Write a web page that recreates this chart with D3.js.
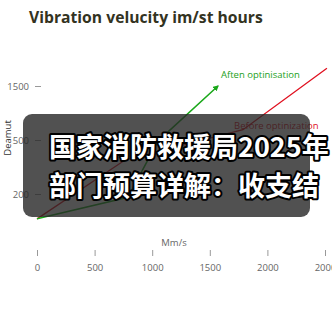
<!DOCTYPE html>
<html>
<head>
<meta charset="utf-8">
<script src="https://d3js.org/d3.v7.min.js"></script>
<style>
  body { margin: 0; background: #fff; }
  svg { display: block; }
  .axis text { fill: #666; font-family: "Open Sans", sans-serif; font-size: 9.5px; }
  .axis line { stroke: #999; }
  .axis .domain { stroke: none; }
</style>
</head>
<body>
<script>
// values
var title = "Vibration velucity im/st hours";
var xTicks = [0, 500, 1000, 1500, 2000, 2500];
var xTickLabels = ["0", "500", "1000", "1500", "2000", "2000"];
var yTicks = [1, 2, 3];
var yTickLabels = ["200", "500", "1500"];

var beforeX = [0, 764, 1788, 2517];
var beforeY = [0.54, 1.63, 2.19, 3.33];
var afterX = [0, 790, 1050, 1571];
var afterY = [0.54, 0.94, 1.98, 3.0];

var overlayLines = ["国家消防救援局2025年", "部门预算详解：收支结"];

var width = 332, height = 332;

var svg = d3.select('body').append('svg')
  .attr('width', width)
  .attr('height', height);

var defs = svg.append('defs');
defs.append('marker')
  .attr('id', 'arrow')
  .attr('viewBox', '0 0 10 10')
  .attr('refX', 8).attr('refY', 5)
  .attr('markerWidth', 6).attr('markerHeight', 6)
  .attr('markerUnits', 'userSpaceOnUse')
  .attr('orient', 'auto')
  .append('path')
  .attr('d', 'M0,0 L10,5 L0,10 z')
  .attr('fill', '#1aa81a');

const xScale = d3.scaleLinear()
  .domain([0, 2500])
  .range([37, 325]);

const yScale = d3.scaleLinear()
  .domain([0, 3])
  .range([248, 86]);

// title
svg.append('text')
  .attr('x', 29).attr('y', 23)
  .attr('fill', '#33331f')
  .style('font-family', '"Open Sans", sans-serif')
  .style('font-weight', 'bold')
  .style('font-size', '15.7px')
  .text(title);

// axes
const yAxis = d3.axisLeft(yScale)
  .tickValues(yTicks)
  .tickFormat((d, i) => yTickLabels[i])
  .tickSize(6)
  .tickPadding(6);
svg.append('g')
  .attr('class', 'axis')
  .attr('transform', 'translate(41,0)')
  .call(yAxis);

const xAxis = d3.axisBottom(xScale)
  .tickValues(xTicks)
  .tickFormat((d, i) => xTickLabels[i])
  .tickSize(6)
  .tickPadding(8);
svg.append('g')
  .attr('class', 'axis')
  .attr('transform', 'translate(0,250)')
  .call(xAxis);

svg.append('text')
  .attr('x', 174).attr('y', 246)
  .attr('text-anchor', 'middle')
  .attr('fill', '#666')
  .style('font-family', '"Open Sans", sans-serif')
  .style('font-size', '9.5px')
  .text('Mm/s');

svg.append('text')
  .attr('transform', 'translate(11,138) rotate(-90)')
  .attr('text-anchor', 'middle')
  .attr('fill', '#333')
  .style('font-family', '"Open Sans", sans-serif')
  .style('font-size', '9.5px')
  .text('Deamut');

// lines
const line = d3.line()
  .x(d => xScale(d[0]))
  .y(d => yScale(d[1]));

svg.append('path')
  .datum(d3.zip(beforeX, beforeY))
  .attr('d', line)
  .attr('fill', 'none')
  .attr('stroke', '#e0101f')
  .attr('stroke-width', 1.3);

svg.append('path')
  .datum(d3.zip(afterX, afterY))
  .attr('d', line)
  .attr('fill', 'none')
  .attr('stroke', '#1aa81a')
  .attr('stroke-width', 1.5)
  .attr('marker-end', 'url(#arrow)');

svg.append('text')
  .attr('x', 221).attr('y', 78)
  .attr('fill', '#22a022')
  .style('font-family', '"Open Sans", sans-serif')
  .style('font-size', '9.5px')
  .text('Aften optinisation');

svg.append('text')
  .attr('x', 234).attr('y', 129)
  .attr('fill', '#e0101f')
  .style('font-family', '"Open Sans", sans-serif')
  .style('font-size', '9.5px')
  .text('Before optinization');

// dark caption box over the chart
svg.append('rect')
  .attr('x', 23).attr('y', 114)
  .attr('width', 287).attr('height', 103)
  .attr('rx', 9)
  .attr('fill', 'rgba(38,38,38,0.8)');

svg.selectAll('.cap')
  .data(overlayLines)
  .enter().append('text')
  .attr('class', 'cap')
  .attr('x', 49)
  .attr('y', (d, i) => 157 + i * 39)
  .attr('fill', '#fff')
  .attr('stroke', '#000')
  .attr('stroke-width', 4)
  .attr('paint-order', 'stroke')
  .attr('stroke-linejoin', 'round')
  .style('font-family', '"Noto Sans CJK SC", sans-serif')
  .style('font-weight', 'bold')
  .style('font-size', '27px')
  .text(d => d);
</script>
</body>
</html>
